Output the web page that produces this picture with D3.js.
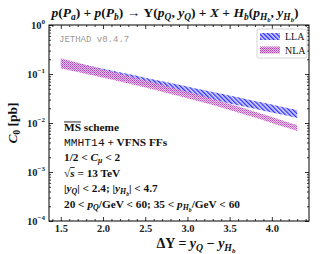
<!DOCTYPE html>
<html><head><meta charset="utf-8">
<script src="https://cdn.jsdelivr.net/npm/d3@7"></script>
<style>body{margin:0;background:#fff}svg{display:block}</style>
</head><body>
<svg id="c" width="323" height="254"></svg>
<script>
// ---- data ----
const dY = [1.5,1.7,1.9,2.1,2.3,2.5,2.7,2.9,3.1,3.3,3.5,3.7,3.9,4.1,4.3];
const llaUpper = [0.195,0.165,0.139,0.118,0.0995,0.0841,0.0711,0.0600,0.0507,0.0429,0.0362,0.0306,0.0259,0.0218,0.0184];
const llaLower = [0.138,0.116,0.0980,0.0826,0.0696,0.0587,0.0495,0.0417,0.0352,0.0297,0.0250,0.0211,0.0178,0.0150,0.0126];
const nlaUpper = [0.210,0.170,0.138,0.112,0.091,0.074,0.060,0.048,0.039,0.031,0.0245,0.0193,0.0150,0.0117,0.0091];
const nlaLower = [0.130,0.110,0.092,0.077,0.064,0.053,0.0435,0.0355,0.0288,0.0232,0.0185,0.0146,0.0114,0.0088,0.0069];
const xTicks = [1.5,2.0,2.5,3.0,3.5,4.0];
const xTickLabels = ["1.5","2.0","2.5","3.0","3.5","4.0"];
const yTicks = [1,0.1,0.01,0.001,0.0001];
const yTickExps = ["0","\u22121","\u22122","\u22123","\u22124"];
const seriesNames = ["LLA","NLA"];

const svg = d3.select("#c");
const L=49,R=309,T=25,B=221;
const x = d3.scaleLinear().domain([1.36,4.44]).range([L,R]);
const y = d3.scaleLog().domain([1e-4,1]).range([B,T]);
const serif = "'Liberation Serif','DejaVu Serif',serif";

// patterns
const defs = svg.append("defs");
const p1 = defs.append("pattern").attr("id","hLLA").attr("patternUnits","userSpaceOnUse")
  .attr("width",3).attr("height",3).attr("patternTransform","rotate(-45)");
p1.append("rect").attr("width",3).attr("height",3).attr("fill","#d4d4ff");
p1.append("rect").attr("x",0).attr("width",1.3).attr("height",3).attr("fill","#2222ff");
const p2 = defs.append("pattern").attr("id","hNLA").attr("patternUnits","userSpaceOnUse")
  .attr("width",2).attr("height",2);
p2.append("rect").attr("width",2).attr("height",2).attr("fill","#ebbfeb");
p2.append("rect").attr("width",1).attr("height",1).attr("fill","#b040b0");
p2.append("rect").attr("x",1).attr("y",1).attr("width",1).attr("height",1).attr("fill","#c870c8");

const area = (up,lo)=>d3.area().x((d,i)=>x(dY[i])).y0((d,i)=>y(lo[i])).y1((d,i)=>y(up[i])).curve(d3.curveMonotoneX)(dY);
svg.append("path").attr("d",area(llaUpper,llaLower)).attr("fill","url(#hLLA)").attr("opacity",0.95);
svg.append("path").attr("d",area(nlaUpper,nlaLower)).attr("fill","url(#hNLA)").attr("opacity",0.9);

// axes
const xMinor = d3.range(14,45).map(v=>v/10).filter(v=>v>=1.36&&v<=4.44&&Math.abs(v*2-Math.round(v*2))>1e-6);
const yMinor = [];
for (let e=-4;e<0;e++) for (let k=2;k<=9;k++) yMinor.push(k*Math.pow(10,e));
function ax(g){g.select(".domain").remove(); g.selectAll("line").attr("stroke","#000").attr("stroke-width",0.8);}
svg.append("g").attr("transform",`translate(0,${B})`).call(d3.axisBottom(x).tickValues(xTicks).tickSize(-4).tickPadding(4).tickFormat((d,i)=>xTickLabels[i])).call(ax)
  .selectAll("text").attr("font-family",serif).attr("font-weight","bold").attr("font-size",10.5).attr("fill","#222");
svg.append("g").attr("transform",`translate(0,${B})`).call(d3.axisBottom(x).tickValues(xMinor).tickSize(-2).tickFormat("")).call(ax);
svg.append("g").attr("transform",`translate(0,${T})`).call(d3.axisTop(x).tickValues(xTicks).tickSize(-4).tickFormat("")).call(ax);
svg.append("g").attr("transform",`translate(0,${T})`).call(d3.axisTop(x).tickValues(xMinor).tickSize(-2).tickFormat("")).call(ax);
svg.append("g").attr("transform",`translate(${L},0)`).call(d3.axisLeft(y).tickValues(yTicks).tickSize(-4).tickFormat("")).call(ax);
svg.append("g").attr("transform",`translate(${L},0)`).call(d3.axisLeft(y).tickValues(yMinor).tickSize(-2).tickFormat("")).call(ax);
svg.append("g").attr("transform",`translate(${R},0)`).call(d3.axisRight(y).tickValues(yTicks).tickSize(-4).tickFormat("")).call(ax);
svg.append("g").attr("transform",`translate(${R},0)`).call(d3.axisRight(y).tickValues(yMinor).tickSize(-2).tickFormat("")).call(ax);
svg.append("rect").attr("x",L).attr("y",T).attr("width",R-L).attr("height",B-T).attr("fill","none").attr("stroke","#000").attr("stroke-width",1);

yTicks.forEach((v,i)=>{
  const t = svg.append("text").attr("x",L-4).attr("y",y(v)+3.5).attr("text-anchor","end")
    .attr("font-family",serif).attr("font-weight","bold").attr("font-size",10.5).attr("fill","#222");
  t.append("tspan").text("10");
  t.append("tspan").attr("dy",-4.5).attr("font-size",7).text(yTickExps[i]);
});

// rich text helper
function rich(x0,y0,segs,size,anchor,extra){
  const t = svg.append("text").attr("x",x0).attr("y",y0).attr("font-family",serif)
    .attr("font-weight","bold").attr("font-size",size).attr("fill","#111").attr("text-anchor",anchor||"start");
  if(extra) extra(t);
  let cur=0; const overs=[];
  segs.forEach(s=>{
    if(typeof s==="string") s={t:s};
    const lvl = s.sub? (s.sub===2? size*0.36 : size*0.22) : (s.sup? -size*0.38:0);
    const fs = s.sub===2? size*0.5 : (s.sub||s.sup? size*0.7 : size);
    const ts = t.append("tspan").attr("dy",lvl-cur).attr("font-size",fs).text(s.t);
    cur=lvl;
    if(s.i) ts.attr("font-style","italic");
    if(s.mono) ts.attr("font-family","'Liberation Mono','DejaVu Sans Mono',monospace").attr("font-weight","normal");
    if(s.n) ts.attr("font-weight","normal");
    if(s.over) overs.push(ts);
  });
  overs.forEach(ts=>{
    const n=ts.text().length;
    const a=ts.node().getStartPositionOfChar(0), b=ts.node().getEndPositionOfChar(n-1);
    svg.append("line").attr("x1",a.x).attr("x2",b.x).attr("y1",a.y-size*0.8).attr("y2",a.y-size*0.8)
      .attr("stroke","#111").attr("stroke-width",0.9);
  });
  return t;
}

// title
rich(175,17,[{t:"p",i:1},"(",{t:"P",i:1},{t:"a",i:1,sub:1},")"," + ",{t:"p",i:1},"(",{t:"P",i:1},{t:"b",i:1,sub:1},")"," \u2192 \u03A5(",
  {t:"p",i:1},{t:"Q",i:1,sub:1},", ",{t:"y",i:1},{t:"Q",i:1,sub:1},") + ",{t:"X",i:1}," + ",{t:"H",i:1},{t:"b",i:1,sub:1},"(",
  {t:"p",i:1},{t:"H",i:1,sub:1},{t:"b",i:1,sub:2},", ",{t:"y",i:1},{t:"H",i:1,sub:1},{t:"b",i:1,sub:2},")"],13.5,"middle");

// axis labels
rich(196,248,[{t:"\u0394Y",i:0}," = ",{t:"y",i:1},{t:"Q",i:1,sub:1}," \u2212 ",{t:"y",i:1},{t:"H",i:1,sub:1},{t:"b",i:1,sub:2}],14,"middle");
rich(0,0,[{t:"C",i:1},{t:"0",sub:1}," [pb]"],13.5,"middle",t=>t.attr("transform","translate(17,123) rotate(-90)"));

// JETHAD
svg.append("text").attr("x",59).attr("y",41.5).attr("font-family","'Liberation Mono','DejaVu Sans Mono',monospace")
  .attr("font-size",9).attr("fill","#999").text("JETHAD v0.4.7");

// annotation block
const ax0=64, fs=11.3;
rich(ax0,131,[{t:"MS",over:1}," scheme"],fs);
rich(ax0,145.5,[{t:"MMHT14",mono:1}," + VFNS FFs"],fs);
rich(ax0,161,["1/2 < ",{t:"C",i:1},{t:"\u03BC",i:1,sub:1}," < 2"],fs);
rich(ax0,176.5,["\u221A",{t:"s",i:1,over:1}," = 13 TeV"],fs);
rich(ax0,192,["|",{t:"y",i:1},{t:"Q",i:1,sub:1},"| < 2.4;  |",{t:"y",i:1},{t:"H",i:1,sub:1},{t:"b",i:1,sub:2},"| < 4.7"],fs);
rich(ax0,208,["20 < ",{t:"p",i:1},{t:"Q",i:1,sub:1},"/GeV < 60; 35 < ",{t:"p",i:1},{t:"H",i:1,sub:1},{t:"b",i:1,sub:2},"/GeV < 60"],fs);

// legend
const lg = svg.append("g");
lg.append("rect").attr("x",257).attr("y",29).attr("width",50).attr("height",29).attr("rx",2)
  .attr("fill","#fff").attr("fill-opacity",0.85).attr("stroke","#ccc").attr("stroke-width",0.8);
seriesNames.forEach((n,i)=>{
  const yy = 33+i*13.5;
  lg.append("rect").attr("x",260).attr("y",yy).attr("width",20).attr("height",7).attr("fill",i?"url(#hNLA)":"url(#hLLA)");
  lg.append("text").attr("x",285).attr("y",yy+7).attr("font-family",serif).attr("font-size",10).attr("fill","#111").text(n);
});
</script>
</body></html>
